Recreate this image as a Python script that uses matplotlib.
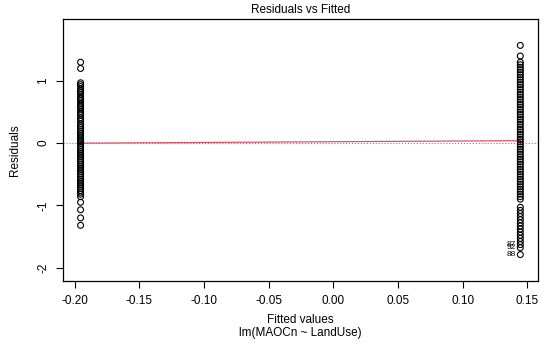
import numpy as np
import matplotlib
matplotlib.use('Agg')
import matplotlib.pyplot as plt

plt.rcParams['font.family'] = ['Liberation Sans', 'DejaVu Sans']

# fitted value of each LandUse group
fitted_groups = [-0.1954, 0.1446]

# residuals, one list per group
resid_left = [1.30, 1.20, 0.97, 0.94, 0.91, 0.87, 0.84, 0.81, 0.78, 0.74,
              0.71, 0.68, 0.64, 0.61, 0.58, 0.55, 0.51, 0.48, 0.45, 0.41,
              0.38, 0.35, 0.31, 0.28, 0.25, 0.22, 0.19, 0.16, 0.13, 0.10,
              0.07, 0.04, 0.02, -0.01, -0.04, -0.07, -0.10, -0.13, -0.16,
              -0.19, -0.22, -0.25, -0.28, -0.31, -0.34, -0.37, -0.40, -0.43,
              -0.46, -0.49, -0.52, -0.55, -0.58, -0.61, -0.64, -0.67, -0.70,
              -0.73, -0.76, -0.79, -0.82, -0.86, -0.95, -1.07, -1.20, -1.32]
resid_right = [1.57, 1.40, 1.30, 1.26, 1.22, 1.18, 1.14, 1.10, 1.06, 1.02,
               0.98, 0.94, 0.90, 0.86, 0.82, 0.78, 0.74, 0.70, 0.66, 0.62,
               0.58, 0.54, 0.50, 0.46, 0.42, 0.38, 0.34, 0.30, 0.26, 0.22,
               0.18, 0.14, 0.10, 0.06, 0.02, -0.02, -0.06, -0.10, -0.14,
               -0.18, -0.22, -0.26, -0.30, -0.34, -0.38, -0.42, -0.46, -0.50,
               -0.54, -0.58, -0.62, -0.66, -0.70, -0.74, -0.78, -0.82, -0.86,
               -0.90, -1.03, -1.08, -1.13, -1.18, -1.23, -1.28, -1.33, -1.38,
               -1.43, -1.48, -1.53, -1.58, -1.63, -1.68, -1.79]

# labelled extreme observations (right group)
outlier_ids = ['87', '92', '88']
outlier_resid = [-1.63, -1.68, -1.79]

# lowess smooth at the two fitted values
smooth_y = [0.0, 0.04]

x_ticks = [-0.20, -0.15, -0.10, -0.05, 0.00, 0.05, 0.10, 0.15]
y_ticks = [-2, -1, 0, 1]


def main():
    fig = plt.figure(figsize=(5.44, 3.58), dpi=100)
    ax = fig.add_axes([0.1158, 0.215, 0.873, 0.732])

    ax.axhline(0, color='gray', ls=':', lw=0.8, zorder=1)

    x_all = np.concatenate([np.full(len(resid_left), fitted_groups[0]),
                            np.full(len(resid_right), fitted_groups[1])])
    y_all = np.concatenate([resid_left, resid_right])
    ax.scatter(x_all, y_all, s=18, facecolors='none', edgecolors='black',
               linewidths=0.8, zorder=3)

    # lowess line, R 4 palette red
    ax.plot(fitted_groups, smooth_y, color='#DF536B', lw=0.9, zorder=2)

    for lab, r in zip(outlier_ids, outlier_resid):
        ax.annotate(lab, (fitted_groups[1], r), xytext=(-3, 0),
                    textcoords='offset points', ha='right', va='center',
                    fontsize=6)

    # R style limits: 4% extension, y first extended by 8%
    xr = max(fitted_groups) - min(fitted_groups)
    ax.set_xlim(min(fitted_groups) - 0.04 * xr, max(fitted_groups) + 0.04 * xr)
    lo, hi = y_all.min(), y_all.max()
    d = 0.08 * (hi - lo)
    lo, hi = lo - d, hi + d
    d = 0.04 * (hi - lo)
    ax.set_ylim(lo - d, hi + d)

    ax.set_xticks(x_ticks)
    ax.set_xticklabels([f'{v:.2f}' for v in x_ticks])
    ax.set_yticks(y_ticks)
    ax.set_yticklabels([str(v) for v in y_ticks], rotation=90, va='center')
    ax.tick_params(direction='out', length=5, width=0.8, labelsize=8.5,
                   pad=5)
    for sp in ax.spines.values():
        sp.set_linewidth(0.9)

    fig.text(0.552, 0.972, 'Residuals vs Fitted', ha='center', va='center',
             fontsize=8.5)
    fig.text(0.552, 0.106, 'Fitted values', ha='center', va='center',
             fontsize=8.5)
    fig.text(0.552, 0.07, 'lm(MAOCn ~ LandUse)', ha='center', va='center',
             fontsize=8.5)
    fig.text(0.028, 0.58, 'Residuals', ha='center', va='center',
             rotation=90, fontsize=8.5)

    fig.savefig('out.png', dpi=100)


if __name__ == "__main__":
    main()
